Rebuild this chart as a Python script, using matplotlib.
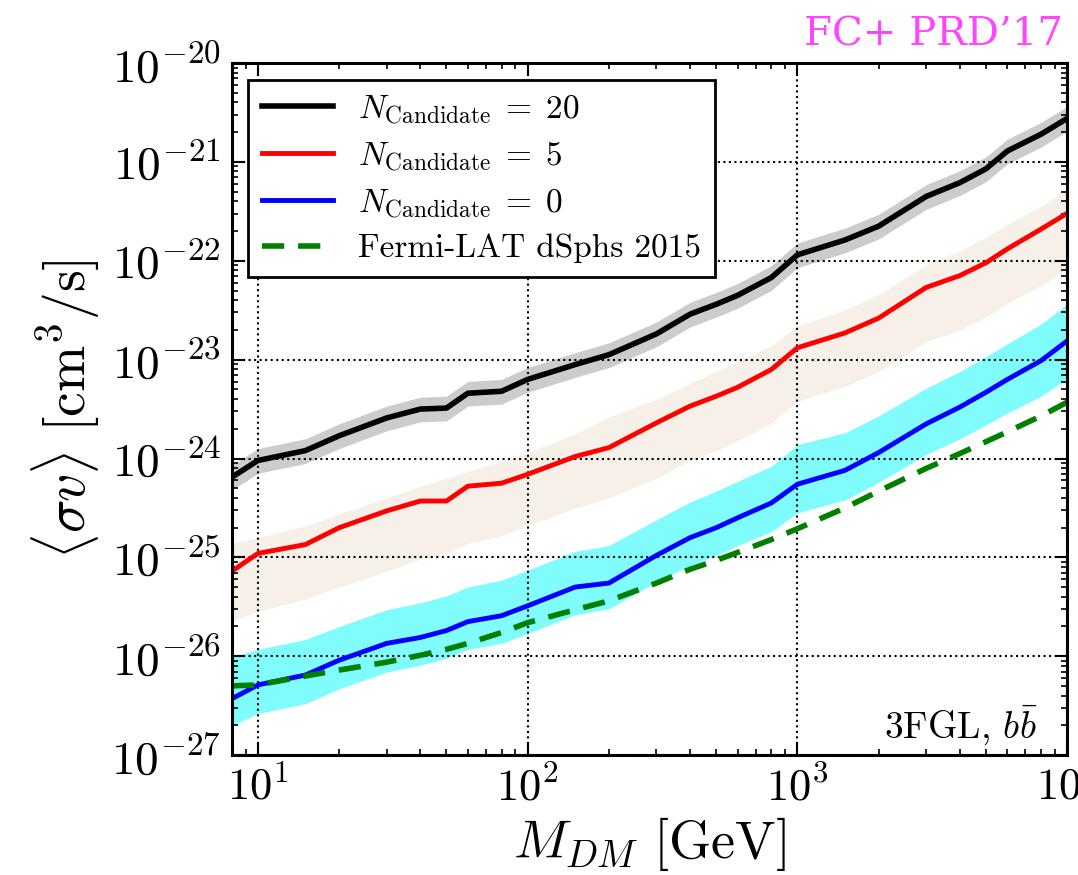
import matplotlib
matplotlib.use('Agg')
import matplotlib.pyplot as plt
import numpy as np

plt.rcParams['mathtext.fontset'] = 'cm'
plt.rcParams['font.family'] = 'serif'
plt.rcParams['font.serif'] = ['cmr10', 'DejaVu Serif']
plt.rcParams['axes.unicode_minus'] = False
plt.rcParams['axes.formatter.use_mathtext'] = True

# DM masses [GeV]
mass = [8, 10, 15, 20, 30, 40, 50, 60, 80, 100, 150, 200, 300, 400, 500,
        600, 800, 1000, 1500, 2000, 3000, 4000, 5000, 6000, 8000, 10000]

# log10 <sigma v>
n20 = [-24.19, -24.02, -23.92, -23.77, -23.59, -23.50, -23.49, -23.34, -23.32, -23.20,
       -23.05, -22.95, -22.74, -22.54, -22.44, -22.35, -22.17, -21.94, -21.79, -21.65,
       -21.35, -21.21, -21.07, -20.89, -20.72, -20.56]
n20_hi = [-24.07, -23.90, -23.80, -23.65, -23.47, -23.38, -23.37, -23.22, -23.20, -23.08,
          -22.93, -22.83, -22.62, -22.42, -22.32, -22.23, -22.05, -21.82, -21.67, -21.53,
          -21.23, -21.09, -20.95, -20.77, -20.60, -20.44]
n20_lo = [-24.32, -24.15, -24.05, -23.90, -23.72, -23.63, -23.62, -23.47, -23.45, -23.33,
          -23.18, -23.08, -22.87, -22.67, -22.57, -22.48, -22.30, -22.07, -21.92, -21.78,
          -21.48, -21.34, -21.20, -21.02, -20.85, -20.69]

n5 = [-25.14, -24.96, -24.87, -24.70, -24.53, -24.43, -24.43, -24.28, -24.25, -24.16,
      -23.98, -23.89, -23.64, -23.47, -23.37, -23.28, -23.10, -22.88, -22.73, -22.58,
      -22.27, -22.15, -22.02, -21.88, -21.68, -21.52]
n5_hi = [-24.86, -24.80, -24.68, -24.56, -24.40, -24.28, -24.20, -24.13, -24.03, -23.94,
         -23.75, -23.58, -23.40, -23.24, -23.12, -23.02, -22.86, -22.66, -22.50, -22.34,
         -22.04, -21.90, -21.76, -21.63, -21.45, -21.28]
n5_lo = [-25.64, -25.55, -25.42, -25.30, -25.14, -25.02, -24.96, -24.86, -24.78, -24.68,
         -24.50, -24.40, -24.20, -24.02, -23.92, -23.82, -23.64, -23.42, -23.27, -23.12,
         -22.82, -22.70, -22.57, -22.43, -22.25, -22.08]

n0 = [-26.43, -26.29, -26.19, -26.04, -25.87, -25.81, -25.74, -25.65, -25.59, -25.49,
      -25.30, -25.26, -24.98, -24.80, -24.70, -24.60, -24.45, -24.26, -24.12, -23.94,
      -23.65, -23.48, -23.33, -23.20, -23.01, -22.81]
n0_hi = [-26.01, -25.93, -25.83, -25.70, -25.53, -25.46, -25.39, -25.30, -25.23, -25.13,
         -24.94, -24.88, -24.62, -24.44, -24.33, -24.23, -24.08, -23.86, -23.74, -23.57,
         -23.29, -23.12, -22.97, -22.84, -22.64, -22.44]
n0_lo = [-26.70, -26.58, -26.48, -26.33, -26.16, -26.09, -26.02, -25.93, -25.87, -25.77,
         -25.58, -25.52, -25.25, -25.08, -24.98, -24.88, -24.74, -24.55, -24.42, -24.24,
         -23.96, -23.80, -23.66, -23.54, -23.37, -23.19]

fermi = [-26.30, -26.29, -26.20, -26.14, -26.06, -25.99, -25.93, -25.87, -25.76, -25.66,
         -25.53, -25.44, -25.26, -25.12, -25.03, -24.95, -24.82, -24.71, -24.50, -24.33,
         -24.10, -23.95, -23.83, -23.73, -23.57, -23.43]

p = lambda v: 10.0 ** np.array(v)

fig = plt.figure(figsize=(10.78, 8.75), dpi=100)
ax = fig.add_axes([0.215, 0.137, 0.775, 0.791])

ax.fill_between(mass, p(n5_lo), p(n5_hi), color='#f6f0e8', lw=0)
ax.fill_between(mass, p(n20_lo), p(n20_hi), color='#cccccc', lw=0)
ax.fill_between(mass, p(n0_lo), p(n0_hi), color='#80fcfc', lw=0)

ax.plot(mass, p(n20), color='black', lw=4, label=r'$N_{\rm Candidate}\;=\;20$')
ax.plot(mass, p(n5), color='#ff0000', lw=3.5, label=r'$N_{\rm Candidate}\;=\;5$')
ax.plot(mass, p(n0), color='#0000ff', lw=3.5, label=r'$N_{\rm Candidate}\;=\;0$')
ax.plot(mass, p(fermi), color='#007f00', lw=4, dashes=(4, 2.5),
        label='Fermi-LAT dSphs 2015')

ax.set_xscale('log')
ax.set_yscale('log')
ax.set_xlim(8, 1e4)
ax.set_ylim(1e-27, 1e-20)
ax.set_yticks([10.0 ** k for k in range(-27, -19)])

ax.grid(True, which='major', color='black', ls=':', lw=1.5)
ax.tick_params(which='both', direction='in', top=True, right=True)
ax.tick_params(axis='x', labelsize=32)
ax.tick_params(axis='y', labelsize=34)
ax.tick_params(which='major', length=9, width=1.5, pad=8)
ax.tick_params(which='minor', length=4.5, width=1.2)
for s in ax.spines.values():
    s.set_linewidth(2.2)

ax.set_xlabel(r'$M_{DM}\ [\rm GeV]$', fontsize=39)
ax.xaxis.set_label_coords(0.5, -0.086)
ax.set_ylabel(r'$\langle \sigma v \rangle\ [\rm cm^3/s]$', fontsize=40)
ax.yaxis.set_label_coords(-0.155, 0.5)

leg = ax.legend(loc='upper left', fontsize=24, handlelength=2.15, handletextpad=0.75,
                labelspacing=0.42, fancybox=False, framealpha=1, borderaxespad=0.5)
leg.get_frame().set_edgecolor('black')
leg.get_frame().set_linewidth(2)

ax.text(0.965, 0.025, r'3FGL, $b\bar{b}$', transform=ax.transAxes, ha='right',
        va='baseline', fontsize=27)

fig.text(0.986, 1 - 45 / 875, "FC+ PRD\u201917", ha='right', va='baseline',
         fontsize=29, color='#ff45ff', family='DejaVu Serif')

fig.savefig('out.png', dpi=100)
